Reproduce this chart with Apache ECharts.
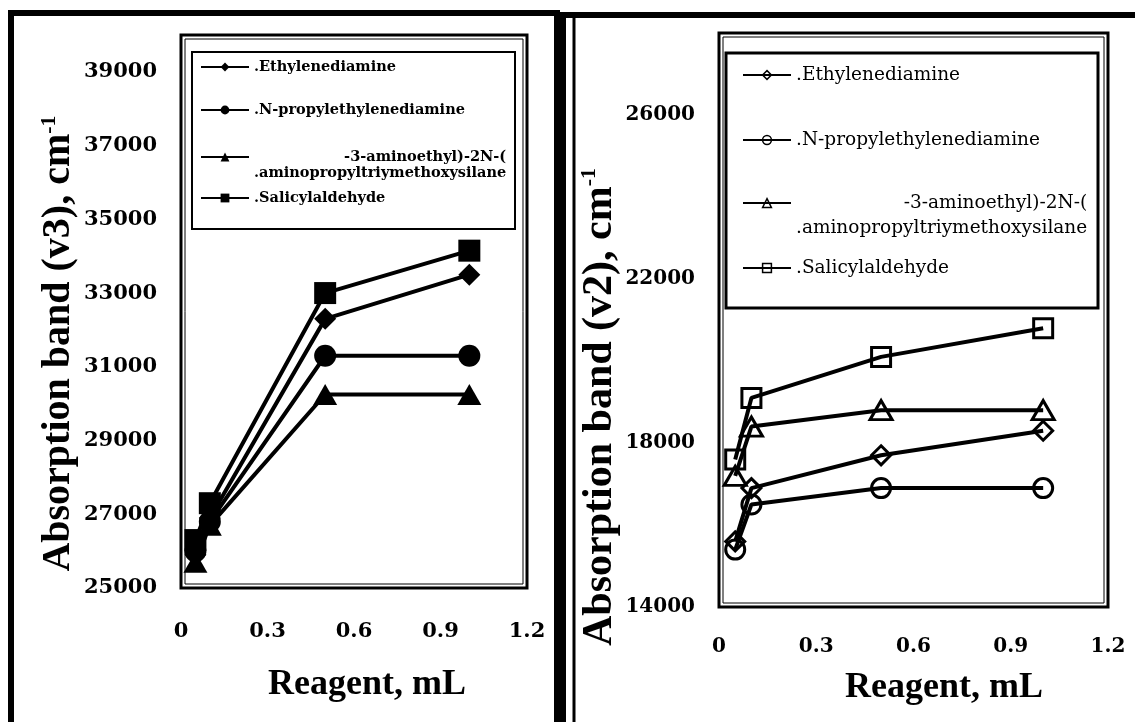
<!DOCTYPE html>
<html>
<head>
<meta charset="utf-8">
<title>Absorption bands vs reagent volume</title>
<script src="https://cdn.jsdelivr.net/npm/echarts@6/dist/echarts.min.js"></script>
<style>
html, body { margin: 0; padding: 0; background: #fff; }
#chart { width: 1135px; height: 722px; }
</style>
</head>
<body>
<div id="chart"></div>
<script>
// reagent volume, mL
const reagent = [0.05, 0.1, 0.5, 1.0];

// left panel, band v3 (cm-1)
const v3Ethylenediamine = [25900, 26900, 32300, 33500];
const v3Propylethylenediamine = [26000, 26800, 31300, 31300];
const v3Aminosilane = [25700, 26700, 30250, 30250];
const v3Salicylaldehyde = [26300, 27300, 33000, 34150];

// right panel, band v2 (cm-1)
const v2Ethylenediamine = [15600, 16900, 17700, 18300];
const v2Propylethylenediamine = [15400, 16500, 16900, 16900];
const v2Aminosilane = [17200, 18400, 18800, 18800];
const v2Salicylaldehyde = [17600, 19100, 20100, 20800];

// tick labels
const xTicks = [0, 0.3, 0.6, 0.9, 1.2];
const v3Ticks = [25000, 27000, 29000, 31000, 33000, 35000, 37000, 39000];
const v2Ticks = [14000, 18000, 22000, 26000];

// legend texts (as they appear, with the leading period)
const legendText = [
    '.Ethylenediamine',
    '.N-propylethylenediamine',
    '{r|-3-aminoethyl)-2N-(}\n.aminopropyltriymethoxysilane',
    '.Salicylaldehyde'
];
const symbols = ['diamond', 'circle', 'triangle', 'rect'];
const symbolSizes = [22, 22, [24, 21], 22];

var chart = echarts.init(document.getElementById('chart'));

function pairs(ys) {
    return reagent.map(function (x, i) { return [x, ys[i]]; });
}

var leftData = [v3Ethylenediamine, v3Propylethylenediamine, v3Aminosilane, v3Salicylaldehyde];
var rightData = [v2Ethylenediamine, v2Propylethylenediamine, v2Aminosilane, v2Salicylaldehyde];

var series = [];
leftData.forEach(function (d, i) {
    series.push({
        name: 'L' + i, type: 'line', xAxisIndex: 0, yAxisIndex: 0,
        data: pairs(d), symbol: symbols[i], symbolSize: symbolSizes[i],
        lineStyle: { color: '#000', width: 4 },
        itemStyle: { color: '#000' },
        z: 2 + i
    });
});
rightData.forEach(function (d, i) {
    var sz = symbolSizes[i];
    sz = Array.isArray(sz) ? [sz[0] - 2, sz[1] - 2] : sz - 3;
    series.push({
        name: 'R' + i, type: 'line', xAxisIndex: 1, yAxisIndex: 1,
        data: pairs(d), symbol: symbols[i], symbolSize: sz,
        lineStyle: { color: '#000', width: 4 },
        itemStyle: { color: 'rgba(0,0,0,0)', borderColor: '#000', borderWidth: 3 },
        z: 2 + i
    });
});

// one legend block per entry, so each row sits where it does in the picture
function legendRow(name, text, left, top, font) {
    return {
        data: [name], left: left, top: top, padding: 0,
        itemWidth: 48, itemHeight: 11, selectedMode: false,
        formatter: function () { return text; },
        lineStyle: { width: 2 },
        itemStyle: { borderWidth: 1.5 },
        textStyle: {
            fontFamily: 'DejaVu Serif', fontWeight: font.weight, fontSize: font.size,
            lineHeight: font.lh, color: '#000',
            rich: { r: { align: 'right', fontFamily: 'DejaVu Serif', fontWeight: font.weight, fontSize: font.size, lineHeight: font.lh, color: '#000' } }
        }
    };
}
var fontL = { weight: 'bold', size: 14.5, lh: 16 };
var fontR = { weight: 'normal', size: 18.5, lh: 25 };
var legends = [
    legendRow('L0', legendText[0], 200, 67 - 8, fontL),
    legendRow('L1', legendText[1], 200, 110 - 8, fontL),
    legendRow('L2', '\n' + legendText[2], 200, 157 - 24, fontL),
    legendRow('L3', legendText[3], 200, 198 - 8, fontL),
    legendRow('R0', legendText[0], 742, 75 - 12.5, fontR),
    legendRow('R1', legendText[1], 742, 140 - 12.5, fontR),
    legendRow('R2', '\n' + legendText[2], 742, 203 - 37.5, fontR),
    legendRow('R3', legendText[3], 742, 268 - 12.5, fontR)
];

function xAxisFor(gridIndex, labelSize, margin, gap, shift) {
    return {
        type: 'value', gridIndex: gridIndex, min: 0, max: 1.2, interval: 0.3,
        axisLine: { show: false }, axisTick: { show: false }, splitLine: { show: false },
        axisLabel: {
            margin: margin, color: '#000', fontFamily: 'DejaVu Serif', fontWeight: 'bold', fontSize: labelSize,
            formatter: function (v) { return xTicks.indexOf(+v.toFixed(1)) >= 0 ? String(+v.toFixed(1)) : ''; }
        },
        name: 'Reagent, mL', nameLocation: 'middle', nameGap: gap,
        nameTextStyle: { fontFamily: 'Liberation Serif', fontWeight: 'bold', fontSize: 36, color: '#000', padding: [0, 0, 0, shift] }
    };
}

function yAxisFor(gridIndex, min, max, step, ticks, band, labelSize, gap, shift, titleSize) {
    return {
        type: 'value', gridIndex: gridIndex, min: min, max: max, interval: step,
        axisLine: { show: false }, axisTick: { show: false }, splitLine: { show: false },
        axisLabel: {
            margin: 24, color: '#000', fontFamily: 'DejaVu Serif', fontWeight: 'bold', fontSize: labelSize,
            formatter: function (v) { return ticks.indexOf(v) >= 0 ? String(v) : ''; }
        },
        name: '{m|Absorption band (' + band + '), cm}{s|-1}',
        nameLocation: 'middle', nameRotate: 90, nameGap: gap,
        nameTextStyle: {
            color: '#000', padding: [0, shift, 0, 0],
            rich: {
                m: { fontFamily: 'Liberation Serif', fontWeight: 'bold', fontSize: titleSize, lineHeight: titleSize + 2, color: '#000' },
                s: { fontFamily: 'Liberation Serif', fontWeight: 'bold', fontSize: 22, lineHeight: 22, verticalAlign: 'top', color: '#000' }
            }
        }
    };
}

var gridL = { left: 181, top: 35, width: 346, height: 553 };
var gridR = { left: 719, top: 33, width: 389, height: 574 };

function frameBox(g) {
    return { type: 'rect', shape: { x: g.left + 4, y: g.top + 4, width: g.width - 8, height: g.height - 8 },
             style: { fill: null, stroke: '#000', lineWidth: 1 }, silent: true, z: 1 };
}

var option = {
    animation: false,
    backgroundColor: '#fff',
    grid: [
        Object.assign({ show: true, borderColor: '#000', borderWidth: 3, backgroundColor: 'transparent' }, gridL),
        Object.assign({ show: true, borderColor: '#000', borderWidth: 3, backgroundColor: 'transparent' }, gridR)
    ],
    xAxis: [
        xAxisFor(0, 21, 33, 79, 26),
        xAxisFor(1, 20, 30, 63, 61)
    ],
    yAxis: [
        yAxisFor(0, 25000, 40000, 1000, v3Ticks, 'v3', 21, 101, 64, 40),
        yAxisFor(1, 14000, 28000, 2000, v2Ticks, 'v2', 20, 93, 174, 42)
    ],
    legend: legends,
    series: series,
    graphic: [
        // panel frames
        { type: 'rect', shape: { x: 11, y: 13, width: 546, height: 800 }, style: { fill: null, stroke: '#000', lineWidth: 6 }, silent: true },
        { type: 'rect', shape: { x: 563, y: 15, width: 600, height: 800 }, style: { fill: null, stroke: '#000', lineWidth: 6 }, silent: true },
        { type: 'line', shape: { x1: 574, y1: 15, x2: 574, y2: 722 }, style: { stroke: '#000', lineWidth: 3 }, silent: true },
        // inner thin line of the plot frames
        frameBox(gridL),
        frameBox(gridR),
        // legend boxes
        { type: 'rect', shape: { x: 192, y: 52, width: 323, height: 177 }, style: { fill: null, stroke: '#000', lineWidth: 2 }, silent: true },
        { type: 'rect', shape: { x: 726, y: 53, width: 372, height: 255 }, style: { fill: null, stroke: '#000', lineWidth: 3 }, silent: true }
    ]
};

chart.setOption(option);
</script>
</body>
</html>
